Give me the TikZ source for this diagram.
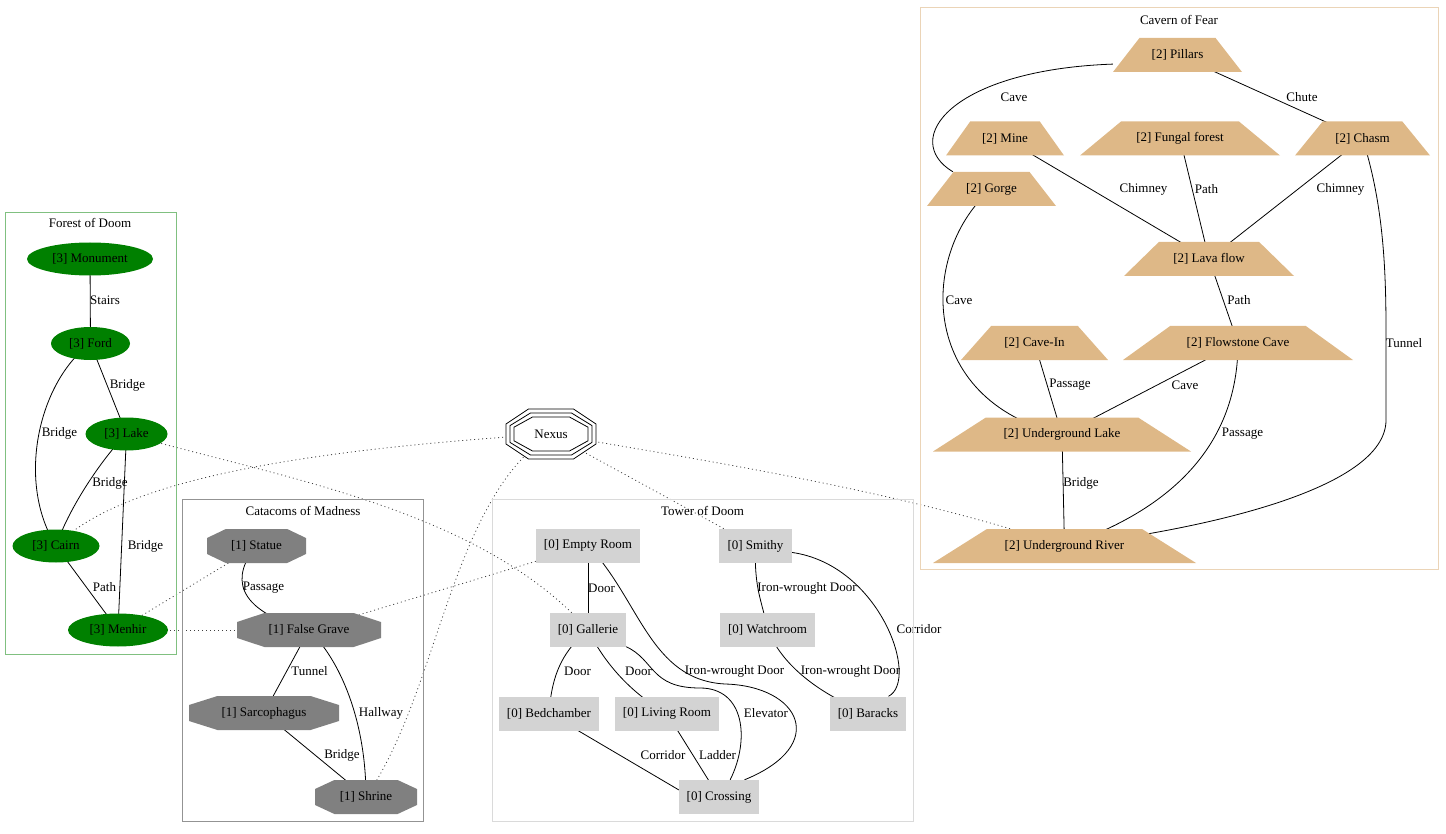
\documentclass[tikz,border=0pt]{standalone}
\usepackage{fontspec}
\setmainfont{Liberation Serif}
\usetikzlibrary{shapes.geometric}
\pgfdeclarelayer{background}
\pgfsetlayers{background,main}

\definecolor{burlywood}{HTML}{DEB887}
\definecolor{gvgreen}{HTML}{008000}
\definecolor{gvgrey}{HTML}{808080}
\definecolor{gvlightgrey}{HTML}{D3D3D3}

\tikzset{
  every node/.style={font=\fontsize{13}{15}\selectfont},
  lbl/.style={inner sep=0pt},
  cluster/.style={line width=1pt},
  forestroom/.style={ellipse, fill=gvgreen, minimum height=33pt, inner sep=0pt},
  towerroom/.style={rectangle, fill=gvlightgrey, minimum height=34pt, inner sep=0pt},
  caveroom/.style={inner sep=0pt, minimum height=34pt},
  passage/.style={line width=0.8pt},
  portal/.style={line width=0.8pt, black!75, dash pattern=on 1pt off 3pt},
}

\begin{document}
\begin{tikzpicture}[x=1pt, y=-1pt]
  \useasboundingbox (0,0) rectangle (1446,834);

  % clusters
  \draw[cluster, gvgreen!50] (5,213) rectangle (176,654);
  \node (forestlabel) at (90,223) {Forest of Doom};
  \draw[cluster, gvgrey!85] (182,499) rectangle (423,821);
  \node (catalabel) at (303,511) {Catacoms of Madness};
  \draw[cluster, gvlightgrey!85] (492,499) rectangle (913,821);
  \node (towerlabel) at (702.5,511) {Tower of Doom};
  \draw[cluster, burlywood!60] (920,8) rectangle (1438,569);
  \node (cavernlabel) at (1179,20) {Cavern of Fear};

  % forest of doom
  \foreach \n/\x/\y/\w/\t in {monument/90/259/126/{[3] Monument},
      ford/90.5/343.5/79/{[3] Ford}, lake/126.5/434/82/{[3] Lake},
      cairn/56/546/87/{[3] Cairn}, menhir/118/630/100/{[3] Menhir}}
    \node[forestroom, minimum width=\w] (\n) at (\x,\y) {\t};

  % catacoms of madness
  \foreach \n/\x/\y/\w/\t in {statue/256.5/546/49.5/{[1] Statue},
      falsegrave/309/630/72/{[1] False Grave}, sarcophagus/264/713/75/{[1] Sarcophagus},
      shrine/366/797/51/{[1] Shrine}} {
    \fill[gvgrey] (\x-\w,\y-8) -- (\x-0.62*\w,\y-17) -- (\x+0.62*\w,\y-17) -- (\x+\w,\y-8)
      -- (\x+\w,\y+8) -- (\x+0.62*\w,\y+17) -- (\x-0.62*\w,\y+17) -- (\x-\w,\y+8) -- cycle;
    \node[caveroom, minimum width=2*\w] (\n) at (\x,\y) {\t};
  }

  % tower of doom
  \foreach \n/\x/\y/\w/\t in {emptyroom/588/545.5/104/{[0] Empty Room},
      smithy/755.5/546/73/{[0] Smithy}, gallerie/588/629.5/76/{[0] Gallerie},
      watchroom/767.5/629.5/95/{[0] Watchroom}, bedchamber/549/713.5/100/{[0] Bedchamber},
      livingroom/667/713.5/104/{[0] Living Room}, baracks/868/713.5/76/{[0] Baracks},
      crossing/719/797/80/{[0] Crossing}}
    \node[towerroom, minimum width=\w] (\n) at (\x,\y) {\t};

  % cavern of fear
  \foreach \n/\x/\y/\w/\t in {pillars/1177.5/55/64.5/{[2] Pillars},
      mine/1005/138.5/59/{[2] Mine}, fungal/1180/138.5/100/{[2] Fungal forest},
      chasm/1362.5/138.5/67.5/{[2] Chasm}, gorge/991.5/189/64.5/{[2] Gorge},
      lavaflow/1209/259/85/{[2] Lava flow}, cavein/1034.5/343/73.5/{[2] Cave-In},
      flowstone/1238/343/115/{[2] Flowstone Cave}, ulake/1062/434.5/129/{[2] Underground Lake},
      uriver/1064.5/546/131.5/{[2] Underground River}} {
    \fill[burlywood] (\x-\w,\y+17) -- (\x+\w,\y+17) -- (\x+0.59*\w,\y-17) -- (\x-0.59*\w,\y-17) -- cycle;
    \node[caveroom, minimum width=2*\w] (\n) at (\x,\y) {\t};
  }

  % nexus
  \foreach \d in {0,4,8} {
    \pgfmathsetmacro\nxw{45-\d}
    \pgfmathsetmacro\nxh{25-\d}
    \draw[fill=white, line width=0.8pt] (551-\nxw,434-0.4*\nxh) -- (551-0.5*\nxw,434-\nxh)
      -- (551+0.5*\nxw,434-\nxh) -- (551+\nxw,434-0.4*\nxh) -- (551+\nxw,434+0.4*\nxh)
      -- (551+0.5*\nxw,434+\nxh) -- (551-0.5*\nxw,434+\nxh) -- (551-\nxw,434+0.4*\nxh) -- cycle;
  }
  \node[caveroom, minimum width=90pt, minimum height=50pt] (nexus) at (551,434) {Nexus};

  \begin{pgfonlayer}{background}
    % forest passages
    \draw[passage] (monument.center) -- (ford.center) node[lbl] at (105,300) {Stairs};
    \draw[passage] (ford.center) -- (lake.center) node[lbl] at (127.5,385) {Bridge};
    \draw[passage] (ford.center) .. controls (40,380) and (15,480) .. (cairn.center) node[lbl] at (59.5,433) {Bridge};
    \draw[passage] (lake.center) .. controls (105,455) and (70,505) .. (cairn.center) node[lbl] at (110,483) {Bridge};
    \draw[passage] (lake.center) -- (menhir.center) node[lbl] at (145.5,546) {Bridge};
    \draw[passage] (cairn.center) -- (menhir.center) node[lbl] at (104.5,587) {Path};

    % catacom passages
    \draw[passage] (statue.center) .. controls (232,575) and (232,610) .. (falsegrave.center) node[lbl] at (263.5,588) {Passage};
    \draw[passage] (falsegrave.center) -- (sarcophagus.center) node[lbl] at (309.5,671) {Tunnel};
    \draw[passage] (falsegrave.center) .. controls (340,660) and (366,720) .. (shrine.center) node[lbl] at (381,713) {Hallway};
    \draw[passage] (sarcophagus.center) -- (shrine.center) node[lbl] at (342,755) {Bridge};

    % tower passages
    \draw[passage] (emptyroom.center) -- (gallerie.center) node[lbl] at (601.5,588) {Door};
    \draw[passage] (emptyroom.center) .. controls (640,600) and (650,680) .. (725,684)
      .. controls (800,686) and (830,745) .. (crossing.34) node[lbl] at (734.5,671) {Iron-wrought Door};
    \draw[passage] (gallerie.south east) .. controls (655,660) and (650,688) .. (700,688)
      .. controls (745,688) and (750,740) .. (crossing.57) node[lbl] at (766,713) {Elevator};
    \draw[passage] (gallerie.center) .. controls (565,650) and (552,670) .. (bedchamber.center) node[lbl] at (577.5,671) {Door};
    \draw[passage] (gallerie.center) .. controls (600,655) and (625,690) .. (livingroom.center) node[lbl] at (638.5,671) {Door};
    \draw[passage] (smithy.center) .. controls (754,590) and (762,600) .. (watchroom.center) node[lbl] at (807,588) {Iron-wrought Door};
    \draw[passage] (smithy.-10) .. controls (880,565) and (920,680) .. (baracks.40) node[lbl] at (919,629) {Corridor};
    \draw[passage] (watchroom.center) .. controls (780,660) and (810,690) .. (baracks.center) node[lbl] at (850.5,671) {Iron-wrought Door};
    \draw[passage] (bedchamber.center) -- (crossing.170) node[lbl] at (663,755) {Corridor};
    \draw[passage] (livingroom.center) -- (crossing.center) node[lbl] at (717.5,755) {Ladder};

    % cavern passages
    \draw[passage] (pillars.188) .. controls (950,70) and (900,140) .. (gorge.156) node[lbl] at (1014,97) {Cave};
    \draw[passage] (pillars.center) -- (chasm.center) node[lbl] at (1302,97) {Chute};
    \draw[passage] (mine.center) -- (lavaflow.center) node[lbl] at (1143.5,189) {Chimney};
    \draw[passage] (fungal.center) -- (lavaflow.center) node[lbl] at (1206.5,189) {Path};
    \draw[passage] (chasm.center) -- (lavaflow.center) node[lbl] at (1340.5,189) {Chimney};
    \draw[passage] (chasm.center) .. controls (1382,200) and (1386,260) .. (1386,330) -- (1386,420)
      .. controls (1386,490) and (1200,530) .. (uriver.center) node[lbl] at (1404,343) {Tunnel};
    \draw[passage] (gorge.center) .. controls (920,250) and (915,400) .. (ulake.center) node[lbl] at (959,300) {Cave};
    \draw[passage] (lavaflow.center) -- (flowstone.center) node[lbl] at (1239,300) {Path};
    \draw[passage] (cavein.center) -- (ulake.center) node[lbl] at (1070,385) {Passage};
    \draw[passage] (flowstone.center) -- (ulake.center) node[lbl] at (1185,385) {Cave};
    \draw[passage] (flowstone.center) .. controls (1238,420) and (1200,500) .. (uriver.center) node[lbl] at (1242.5,434) {Passage};
    \draw[passage] (ulake.center) -- (uriver.center) node[lbl] at (1081,483) {Bridge};

    % portals
    \draw[portal] (nexus.center) .. controls (300,450) and (120,480) .. (cairn.center);
    \draw[portal] (nexus.center) .. controls (450,500) and (440,690) .. (shrine.center);
    \draw[portal] (nexus.center) -- (smithy.center);
    \draw[portal] (nexus.center) .. controls (700,460) and (900,490) .. (uriver.center);
    \draw[portal] (lake.center) .. controls (290,480) and (480,510) .. (gallerie.center);
    \draw[portal] (menhir.center) -- (statue.center);
    \draw[portal] (menhir.center) -- (falsegrave.center);
    \draw[portal] (falsegrave.center) -- (emptyroom.center);
  \end{pgfonlayer}
\end{tikzpicture}
\end{document}
